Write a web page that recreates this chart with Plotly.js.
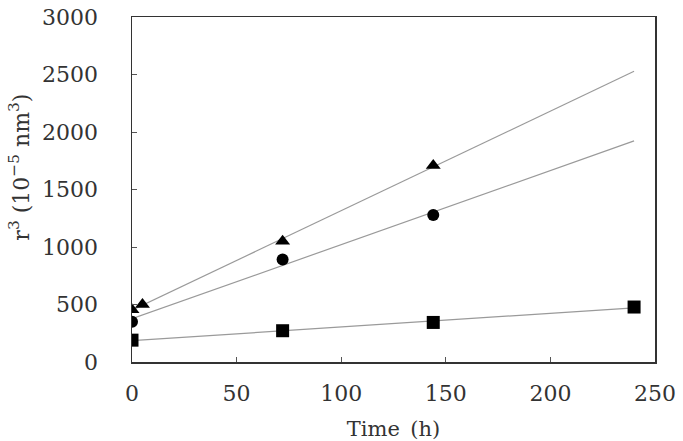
<!DOCTYPE html>
<html>
<head>
<meta charset="utf-8">
<script src="https://cdn.plot.ly/plotly-3.0.1.min.js"></script>
<style>
  html, body { margin: 0; padding: 0; background: #fff; }
  #chart { width: 683px; height: 441px; }
</style>
</head>
<body>
<div id="chart"></div>
<script>
// Growth of r^3 with time for three samples
const timeTriangle = [0, 5, 72, 144];
const r3Triangle   = [455, 500, 1050, 1708];

const timeCircle = [0, 72, 144];
const r3Circle   = [350, 892, 1278];

const timeSquare = [0, 72, 144, 240];
const r3Square   = [190, 272, 344, 478];

const xTicks = [0, 50, 100, 150, 200, 250];
const yTicks = [0, 500, 1000, 1500, 2000, 2500, 3000];

// Least-squares straight line through each series, drawn over the full time span
function linearFit(xs, ys) {
  const n = xs.length;
  const mx = xs.reduce((a, b) => a + b, 0) / n;
  const my = ys.reduce((a, b) => a + b, 0) / n;
  let sxy = 0, sxx = 0;
  for (let i = 0; i < n; i++) {
    sxy += (xs[i] - mx) * (ys[i] - my);
    sxx += (xs[i] - mx) * (xs[i] - mx);
  }
  const slope = sxy / sxx;
  return { slope, intercept: my - slope * mx };
}

const allTimes = timeTriangle.concat(timeCircle, timeSquare);
const fitSpan = [Math.min(...allTimes), Math.max(...allTimes)];

function fitTrace(xs, ys) {
  const f = linearFit(xs, ys);
  return {
    x: fitSpan,
    y: fitSpan.map(t => f.intercept + f.slope * t),
    mode: 'lines',
    line: { color: '#9a9a9a', width: 1.2 },
    hoverinfo: 'skip',
    showlegend: false
  };
}

function pointTrace(xs, ys, symbol, size) {
  return {
    x: xs, y: ys,
    mode: 'markers',
    marker: { symbol: symbol, size: size, color: '#000' },
    showlegend: false
  };
}

const font = 'DejaVu Serif, serif';
const textColor = '#333';

const data = [
  fitTrace(timeTriangle, r3Triangle),
  fitTrace(timeCircle, r3Circle),
  fitTrace(timeSquare, r3Square),
  pointTrace(timeTriangle, r3Triangle, 'triangle-up', 13),
  pointTrace(timeCircle, r3Circle, 'circle', 12),
  pointTrace(timeSquare, r3Square, 'square', 13)
];

const axisCommon = {
  showgrid: false,
  zeroline: false,
  showline: true,
  mirror: true,
  linecolor: '#333',
  linewidth: 1.5,
  ticks: 'inside',
  ticklen: 5,
  tickwidth: 1,
  tickcolor: '#555',
  tickfont: { family: font, size: 22, color: textColor }
};

const layout = {
  width: 683,
  height: 441,
  margin: { l: 132, r: 28, t: 17, b: 79 },
  paper_bgcolor: '#fff',
  plot_bgcolor: '#fff',
  xaxis: Object.assign({}, axisCommon, {
    range: [0, 250],
    tickvals: xTicks,
    ticktext: xTicks.map(String),
    ticklabelstandoff: 11,
    title: { text: 'Time\u2002(h)', font: { family: font, size: 21, color: textColor }, standoff: 16 }
  }),
  yaxis: Object.assign({}, axisCommon, {
    range: [0, 3000],
    tickvals: yTicks,
    ticktext: yTicks.map(String),
    ticklabelstandoff: 28
  }),
  annotations: [{
    xref: 'paper', yref: 'paper',
    x: -0.215, y: 0.565,
    xanchor: 'center', yanchor: 'middle',
    textangle: -90,
    showarrow: false,
    text: 'r<sup>3</sup> (10<sup>−5</sup> nm<sup>3</sup>)',
    font: { family: font, size: 22, color: textColor }
  }]
};

Plotly.newPlot('chart', data, layout, { displayModeBar: false, staticPlot: true });
</script>
</body>
</html>
